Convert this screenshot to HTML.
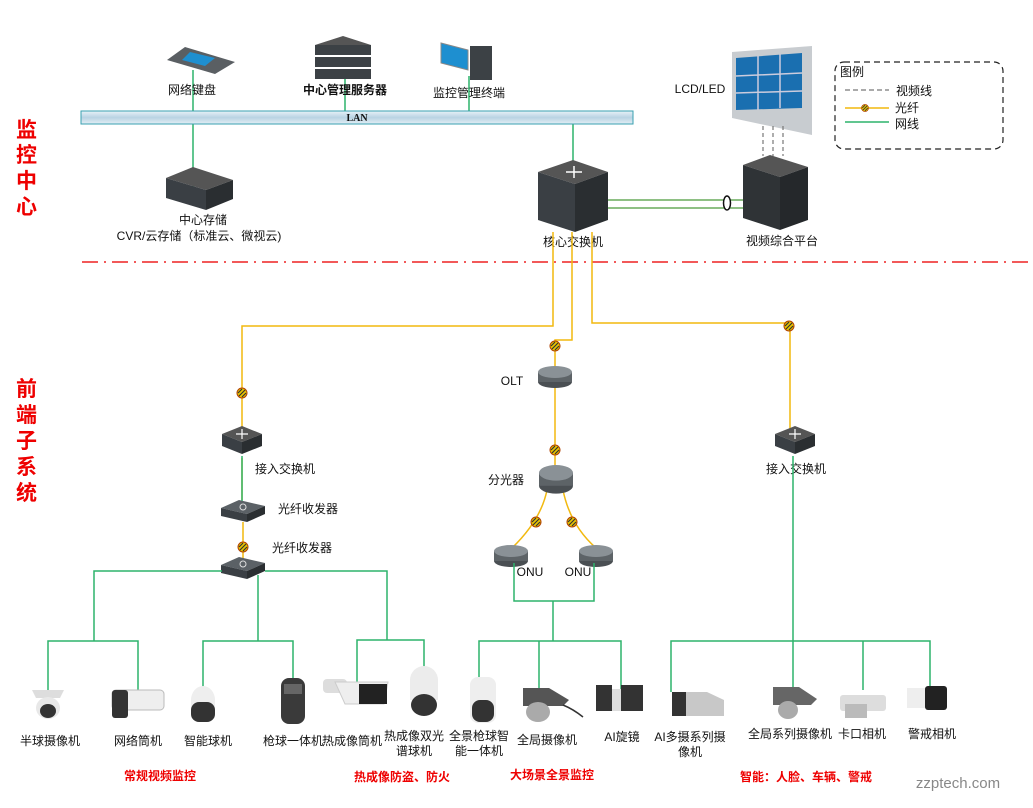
<!DOCTYPE html>
<html><head><meta charset="utf-8"><style>
body{margin:0;background:#fff}
svg{display:block}
text{font-family:"Liberation Sans","Noto Sans CJK SC",sans-serif;font-size:12px;fill:#111}
.t{text-anchor:middle}
.r{fill:#e00;font-weight:bold}
.g{stroke:#2db36b;stroke-width:1.5;fill:none}
.y{stroke:#f2b90f;stroke-width:1.5;fill:none}
</style></head><body>
<svg width="1033" height="808" viewBox="0 0 1033 808">
<defs>
<linearGradient id="lan" x1="0" y1="0" x2="0" y2="1"><stop offset="0" stop-color="#e8f2f8"/><stop offset=".5" stop-color="#b9d3e3"/><stop offset="1" stop-color="#e3eef5"/></linearGradient>
<g id="dot"><circle r="5" fill="#e8c400" stroke="#b04000" stroke-width="1"/><path d="M-3,3 L3,-3 M-4,0 L0,-4 M0,4 L4,0" stroke="#333" stroke-width="1.2"/></g>
<g id="sw"><path d="M-20,-8 L0,-16 L20,-8 L0,0Z" fill="#555"/><path d="M-20,-8 L0,0 L0,12 L-20,4Z" fill="#3a3f44"/><path d="M0,0 L20,-8 L20,4 L0,12Z" fill="#2a2e31"/><path d="M-6,-8 h12 M0,-13 v10" stroke="#fff" stroke-width="1.2"/></g>
<g id="tr"><path d="M-22,-4 L-4,-12 L22,-6 L4,2Z" fill="#5b6166"/><path d="M-22,-4 L4,2 L4,10 L-22,4Z" fill="#3a3f44"/><path d="M4,2 L22,-6 L22,2 L4,10Z" fill="#2a2e31"/><circle cx="0" cy="-5" r="3" fill="none" stroke="#ddd"/></g>
<g id="cyl"><ellipse cx="0" cy="6" rx="17" ry="6" fill="#4a4f53"/><rect x="-17" y="-4" width="34" height="10" fill="#5d6367"/><ellipse cx="0" cy="-4" rx="17" ry="6" fill="#8a9196"/></g>
</defs>

<!-- red side labels -->
<g class="r" style="font-size:21px">
<text x="16" y="137" class="r" style="font-size:21px">监</text>
<text x="16" y="162" class="r" style="font-size:21px">控</text>
<text x="16" y="188" class="r" style="font-size:21px">中</text>
<text x="16" y="214" class="r" style="font-size:21px">心</text>
<text x="16" y="396" class="r" style="font-size:21px">前</text>
<text x="16" y="422" class="r" style="font-size:21px">端</text>
<text x="16" y="448" class="r" style="font-size:21px">子</text>
<text x="16" y="474" class="r" style="font-size:21px">系</text>
<text x="16" y="500" class="r" style="font-size:21px">统</text>
</g>

<!-- dash dot separator -->
<line x1="82" y1="262" x2="1033" y2="262" stroke="#e22" stroke-width="1.5" stroke-dasharray="16,6,2,6"/>

<!-- green lines top -->
<path class="g" d="M193,70 V190 M345,70 V112 M469,76 V112 M573,124 V162"/>
<path d="M608,200 H745 M608,208 H745" stroke="#4a9a3a" stroke-width="1.2"/>
<ellipse cx="727" cy="203" rx="3.5" ry="7" fill="#fff" stroke="#111" stroke-width="1.5"/>

<!-- LAN -->
<rect x="81" y="111" width="552" height="13" fill="url(#lan)" stroke="#3aa0b0" stroke-width="1"/>
<text x="357" y="121" class="t" style="font-family:'Liberation Serif',serif;font-weight:bold;font-size:10px">LAN</text>

<!-- keyboard -->
<path d="M167,60 L185,47 L235,62 L215,74Z" fill="#5a5f63"/><path d="M190,52 L215,58 L205,66 L182,60Z" fill="#1e8fd0"/>
<text x="192" y="94" class="t">网络键盘</text>
<!-- server -->
<g fill="#3c4145"><path d="M315,45 L343,36 L371,45 L343,54Z" fill="#555"/><rect x="315" y="45" width="56" height="10"/><rect x="315" y="57" width="56" height="10"/><rect x="315" y="69" width="56" height="10"/></g>
<text x="345" y="94" class="t" style="font-weight:bold">中心管理服务器</text>
<!-- terminal -->
<path d="M441,43 L468,50 L468,70 L441,63Z" fill="#1e8fd0" stroke="#888"/><rect x="470" y="46" width="22" height="34" fill="#3c4145"/>
<text x="469" y="97" class="t">监控管理终端</text>
<!-- CVR -->
<path d="M166,178 L193,167 L233,180 L206,190Z" fill="#555"/><path d="M166,178 L206,190 L206,210 L166,198Z" fill="#3a3f44"/><path d="M206,190 L233,180 L233,199 L206,210Z" fill="#2a2e31"/>
<text x="203" y="224" class="t">中心存储</text>
<text x="199" y="240" class="t">CVR/云存储（标准云、微视云)</text>

<!-- core switch -->
<path d="M538,172 L573,160 L608,172 L575,184Z" fill="#555"/><path d="M538,172 L575,184 L575,232 L538,220Z" fill="#3a3f44"/><path d="M575,184 L608,172 L608,220 L575,232Z" fill="#2a2e31"/>
<path d="M566,172 h16 M574,166 v12" stroke="#fff" stroke-width="1.5"/>
<text x="573" y="246" class="t">核心交换机</text>

<!-- LCD wall -->
<path d="M732,52 L812,46 L812,135 L732,118Z" fill="#c8ccd0"/><path d="M736,58 L802,53 L802,108 L736,110Z" fill="#1a6fb0"/>
<path d="M758,56 V110 M780,54 V108 M736,76 L802,73 M736,93 L802,91" stroke="#ccd" stroke-width="1.5"/>
<text x="700" y="93" class="t">LCD/LED</text>
<path d="M763,126 V156 M773,126 V156 M783,126 V156" stroke="#777" stroke-width="1.2" stroke-dasharray="4,3"/>
<!-- video platform -->
<path d="M743,165 L770,155 L808,167 L780,177Z" fill="#555"/><path d="M743,165 L780,177 L780,230 L743,218Z" fill="#2f3336"/><path d="M780,177 L808,167 L808,220 L780,230Z" fill="#25282b"/>
<text x="782" y="245" class="t">视频综合平台</text>

<!-- legend -->
<rect x="835" y="62" width="168" height="87" rx="9" fill="none" stroke="#222" stroke-dasharray="6,4" stroke-width="1.2"/>
<text x="840" y="76">图例</text>
<line x1="845" y1="90" x2="889" y2="90" stroke="#555" stroke-dasharray="5,3"/><text x="896" y="95">视频线</text>
<line x1="845" y1="108" x2="889" y2="108" class="y"/><use href="#dot" x="865" y="108" transform="translate(865 108) scale(.7) translate(-865 -108)"/><text x="895" y="112">光纤</text>
<line x1="845" y1="122" x2="889" y2="122" class="g"/><text x="895" y="128">网线</text>

<!-- fiber -->
<path class="y" d="M553,232 V326 H242 V432"/>
<path class="y" d="M572,232 V340 H555 V368"/>
<path class="y" d="M592,232 V323 H790 V430"/>
<path class="y" d="M555,386 V468"/>
<path class="y" d="M242,458 V500 M243,522 V562" />
<path class="y" d="M547,490 Q541,520 512,548 M563,490 Q570,525 596,548"/>
<use href="#dot" x="242" y="393"/><use href="#dot" x="555" y="346"/><use href="#dot" x="789" y="326"/>
<use href="#dot" x="555" y="450"/><use href="#dot" x="536" y="522"/><use href="#dot" x="572" y="522"/><use href="#dot" x="243" y="547"/>

<!-- OLT / splitter / ONU -->
<use href="#cyl" x="555" y="376"/><text x="512" y="385" class="t">OLT</text>
<g transform="translate(556 478) scale(1 1.3)"><use href="#cyl"/></g><text x="506" y="484" class="t">分光器</text>
<use href="#cyl" x="511" y="555"/><use href="#cyl" x="596" y="555"/>
<text x="530" y="576" class="t">ONU</text><text x="578" y="576" class="t">ONU</text>

<!-- left access -->
<use href="#sw" x="242" y="442"/><text x="285" y="473" class="t">接入交换机</text>
<path class="g" d="M242,456 V502"/>
<use href="#tr" x="243" y="512"/><text x="308" y="513" class="t">光纤收发器</text>
<text x="302" y="552" class="t">光纤收发器</text>
<use href="#tr" x="243" y="569"/>
<!-- right access -->
<use href="#sw" x="795" y="442"/><text x="796" y="473" class="t">接入交换机</text>

<!-- green trees -->
<path class="g" d="M222,571 H94 V641 M48,690 V641 H138 V690 M258,575 V641 M203,690 V641 H293 V690 M265,571 H387 V640 M357,685 V640 H424 V680"/>
<path class="g" d="M514,563 V601 H594 V563 M553,601 V641 M479,682 V641 H621 V690 M539,690 V641"/>
<path class="g" d="M793,456 V690 M671,692 V641 H930 V690 M863,690 V641"/>

<!-- cameras -->
<g>
<path d="M32,690 h32 l-4,8 h-24z" fill="#ddd"/><ellipse cx="48" cy="708" rx="12" ry="11" fill="#e8e8e8"/><ellipse cx="48" cy="711" rx="8" ry="7" fill="#333"/>
<rect x="112" y="690" width="52" height="20" rx="4" fill="#eee" stroke="#bbb"/><rect x="112" y="690" width="16" height="28" rx="3" fill="#333"/>
<path d="M191,700 a12,14 0 0 1 24,0 v18 h-24z" fill="#eee"/><rect x="191" y="702" width="24" height="20" rx="8" fill="#333"/>
<rect x="281" y="678" width="24" height="46" rx="8" fill="#3a3a3a"/><rect x="284" y="684" width="18" height="10" fill="#666"/>
<rect x="323" y="679" width="24" height="14" rx="4" fill="#ddd"/><path d="M335,682 H388 l-4,22 H345 Z" fill="#eee" stroke="#ccc"/><rect x="359" y="684" width="28" height="20" fill="#222"/>
<path d="M410,680 a14,14 0 0 1 28,0 v20 h-28z" fill="#ececec"/><ellipse cx="424" cy="705" rx="13" ry="11" fill="#333"/>
<rect x="470" y="677" width="26" height="46" rx="8" fill="#eee"/><rect x="472" y="700" width="22" height="22" rx="8" fill="#333"/>
<path d="M523,688 h26 l20,12 -6,6 h-40z" fill="#555"/><ellipse cx="538" cy="712" rx="12" ry="10" fill="#aaa"/><path d="M563,705 q10,4 20,12" stroke="#333" fill="none" stroke-width="1.5"/>
<rect x="596" y="685" width="16" height="26" fill="#333"/><rect x="612" y="689" width="10" height="22" fill="#ddd"/><rect x="621" y="685" width="22" height="26" fill="#333"/>
<path d="M672,692 h35 l17,8 v16 h-45z" fill="#c8c8c8"/><path d="M672,692 h14 v24 h-14z" fill="#333"/>
<path d="M773,687 h26 l18,12 -6,6 h-38z" fill="#666"/><ellipse cx="788" cy="710" rx="10" ry="9" fill="#aaa"/>
<rect x="840" y="695" width="46" height="16" rx="3" fill="#ddd"/><rect x="845" y="704" width="22" height="14" fill="#bbb"/>
<rect x="907" y="688" width="22" height="20" fill="#eee"/><rect x="925" y="686" width="22" height="24" rx="3" fill="#222"/>
</g>

<g>
<text x="50" y="745" class="t">半球摄像机</text><text x="138" y="745" class="t">网络筒机</text><text x="208" y="745" class="t">智能球机</text>
<text x="293" y="745" class="t">枪球一体机</text><text x="352" y="745" class="t">热成像筒机</text>
<text x="414" y="740" class="t">热成像双光</text><text x="414" y="755" class="t">谱球机</text>
<text x="479" y="740" class="t">全景枪球智</text><text x="479" y="755" class="t">能一体机</text>
<text x="547" y="744" class="t">全局摄像机</text><text x="622" y="741" class="t">AI旋镜</text>
<text x="690" y="741" class="t">AI多摄系列摄</text><text x="690" y="756" class="t">像机</text>
<text x="790" y="738" class="t">全局系列摄像机</text><text x="862" y="738" class="t">卡口相机</text><text x="932" y="738" class="t">警戒相机</text>
</g>
<text x="160" y="780" class="t r">常规视频监控</text>
<text x="402" y="781" class="t r">热成像防盗、防火</text>
<text x="552" y="779" class="t r">大场景全景监控</text>
<text x="806" y="781" class="t r">智能：人脸、车辆、警戒</text>
<text x="958" y="788" class="t" style="fill:#888;font-size:15px">zzptech.com</text>
</svg>
</body></html>
